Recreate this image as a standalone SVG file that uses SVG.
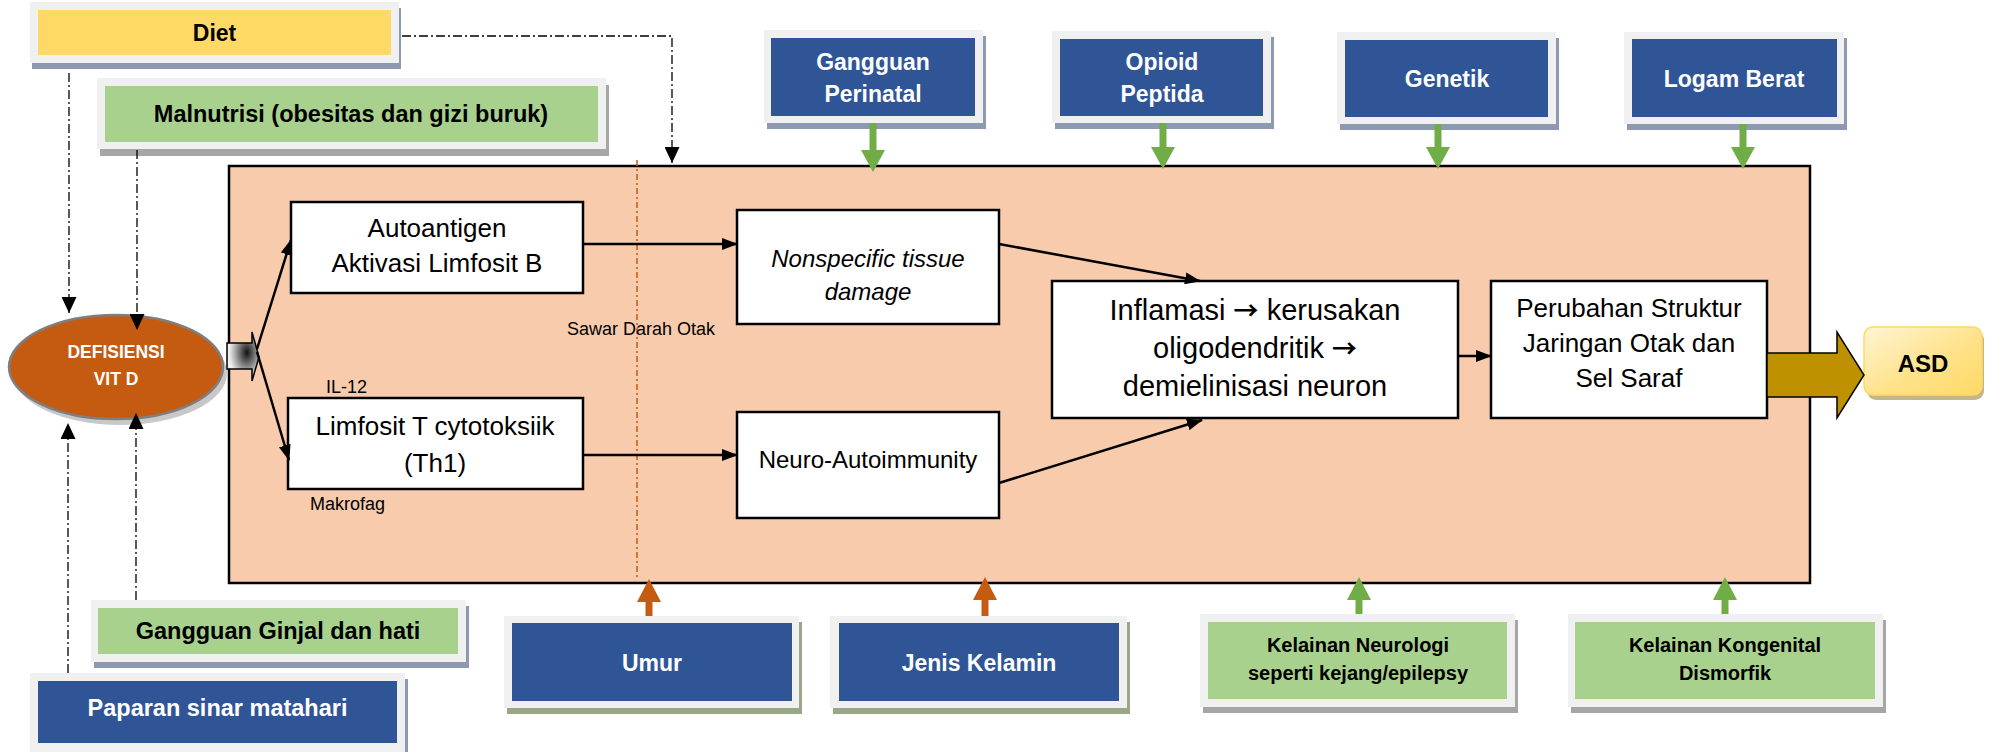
<svg xmlns="http://www.w3.org/2000/svg" width="1992" height="752" viewBox="0 0 1992 752">
<defs>
<style>
text{font-family:"Liberation Sans",Arial,sans-serif;text-anchor:middle}
.b{font-weight:bold}
.w{fill:#fff}
.fr{fill:#F0F0F0}
.bl{fill:#2F5597}
.gr{fill:#A9D18E}
.s1{fill:#8C99B0}
.s2{fill:#A6A6A6}
.s3{fill:#98A68A}
.box{fill:#fff;stroke:#000;stroke-width:2.5}
.dd{fill:none;stroke:#000;stroke-width:1.3;stroke-dasharray:9,3,2,3}
.con{fill:none;stroke:#000;stroke-width:2.5}
.ga{fill:#70AD47}
.oa{fill:#C55A11}
.arr{font-family:"Noto Sans CJK SC","DejaVu Sans",sans-serif;font-size:25px;font-weight:bold}
</style>
<marker id="ah" markerUnits="userSpaceOnUse" markerWidth="16" markerHeight="12" refX="15" refY="6" orient="auto"><path d="M0,0 L16,6 L0,12 z" fill="#000"/></marker>
<marker id="ahd" markerUnits="userSpaceOnUse" markerWidth="16" markerHeight="15" refX="16" refY="7.5" orient="auto"><path d="M0,0 L16,7.5 L0,15 z" fill="#000"/></marker>
<radialGradient id="gg" cx="0.62" cy="0.42" r="0.55"><stop offset="0" stop-color="#111"/><stop offset="0.6" stop-color="#999"/><stop offset="1" stop-color="#eee"/></radialGradient>
<linearGradient id="asdg" x1="0" y1="0" x2="1" y2="1"><stop offset="0" stop-color="#FFF5D6"/><stop offset="0.55" stop-color="#FFE28A"/><stop offset="1" stop-color="#FFD966"/></linearGradient>
</defs>
<rect width="1992" height="752" fill="#fff"/>

<g id="main-box">
<rect x="229" y="166" width="1581" height="417" fill="#F8CBAD" stroke="#000" stroke-width="2.5"/>
<line x1="637" y1="160" x2="637" y2="577" stroke="#C55A11" stroke-width="1.5" stroke-dasharray="6,3,2,3"/>
<text x="567" y="335" font-size="18" style="text-anchor:start">Sawar Darah Otak</text>
<text x="326" y="393" font-size="18" style="text-anchor:start">IL-12</text>
<text x="310" y="510" font-size="18" style="text-anchor:start">Makrofag</text>
</g>

<g id="diet">
<rect x="32" y="8" width="369" height="61" class="s1"/>
<rect x="30" y="2" width="369" height="61" class="fr"/>
<rect x="38" y="10" width="353" height="45" fill="#FFD966"/>
<text x="214.5" y="41" font-size="23" class="b">Diet</text>
</g>

<g id="malnutrisi">
<rect x="100" y="85" width="509" height="71" class="s2"/>
<rect x="97" y="78" width="509" height="71" class="fr"/>
<rect x="105" y="86" width="493" height="56" class="gr"/>
<text x="351" y="122" font-size="23.5" class="b">Malnutrisi (obesitas dan gizi buruk)</text>
</g>

<g id="perinatal">
<rect x="767" y="36" width="219" height="93" class="s1"/>
<rect x="764" y="30" width="219" height="93" class="fr"/>
<rect x="771" y="38" width="204" height="78" class="bl"/>
<text x="873" y="70" font-size="23" class="b w">Gangguan</text>
<text x="873" y="102" font-size="23" class="b w">Perinatal</text>
</g>

<g id="opioid">
<rect x="1055" y="37" width="219" height="92" class="s1"/>
<rect x="1052" y="31" width="219" height="92" class="fr"/>
<rect x="1060" y="39" width="203" height="77" class="bl"/>
<text x="1162" y="70" font-size="23" class="b w">Opioid</text>
<text x="1162" y="102" font-size="23" class="b w">Peptida</text>
</g>

<g id="genetik">
<rect x="1340" y="38" width="219" height="92" class="s1"/>
<rect x="1337" y="32" width="219" height="92" class="fr"/>
<rect x="1345" y="40" width="203" height="77" class="bl"/>
<text x="1447" y="87" font-size="23" class="b w">Genetik</text>
</g>

<g id="logam">
<rect x="1627" y="38" width="220" height="92" class="s1"/>
<rect x="1624" y="32" width="220" height="92" class="fr"/>
<rect x="1632" y="39" width="205" height="78" class="bl"/>
<text x="1734" y="87" font-size="23" class="b w">Logam Berat</text>
</g>

<g id="defisiensi">
<ellipse cx="120" cy="373" rx="107" ry="52" fill="#C8C8C8"/>
<ellipse cx="116" cy="367" rx="107" ry="52" fill="#C55A11" stroke="#7F7F7F" stroke-width="2.5"/>
<text x="116" y="358" font-size="17.5" class="b w">DEFISIENSI</text>
<text x="116" y="385" font-size="17.5" class="b w">VIT D</text>
</g>

<g id="autoantigen">
<rect x="291" y="202" width="292" height="91" class="box"/>
<text x="437" y="237" font-size="26">Autoantigen</text>
<text x="437" y="272" font-size="26">Aktivasi Limfosit B</text>
</g>

<g id="limfosit-t">
<rect x="288" y="398" width="295" height="91" class="box"/>
<text x="435" y="435" font-size="26">Limfosit T cytotoksiik</text>
<text x="435" y="472" font-size="26">(Th1)</text>
</g>

<g id="nonspecific">
<rect x="737" y="210" width="262" height="114" class="box"/>
<text x="868" y="267" font-size="24" font-style="italic">Nonspecific tissue</text>
<text x="868" y="300" font-size="24" font-style="italic">damage</text>
</g>

<g id="neuro">
<rect x="737" y="412" width="262" height="106" class="box"/>
<text x="868" y="468" font-size="24">Neuro-Autoimmunity</text>
</g>

<g id="inflamasi">
<rect x="1052" y="281" width="406" height="137" class="box"/>
<text x="1255" y="320" font-size="29">Inflamasi <tspan class="arr">→</tspan> kerusakan</text>
<text x="1255" y="358" font-size="29">oligodendritik <tspan class="arr">→</tspan></text>
<text x="1255" y="396" font-size="29">demielinisasi neuron</text>
</g>

<g id="perubahan">
<rect x="1491" y="281" width="276" height="137" class="box"/>
<text x="1629" y="317" font-size="26">Perubahan Struktur</text>
<text x="1629" y="352" font-size="26">Jaringan Otak dan</text>
<text x="1629" y="387" font-size="26">Sel Saraf</text>
</g>

<g id="asd">
<rect x="1867" y="331" width="117" height="69" rx="9" fill="#C4B68C"/>
<rect x="1864" y="327" width="118" height="68" rx="9" fill="url(#asdg)" stroke="#FFD966" stroke-width="1.5"/>
<text x="1923" y="372" font-size="24" class="b">ASD</text>
</g>

<g id="ginjal">
<rect x="94" y="606" width="375" height="62" class="s1"/>
<rect x="91" y="600" width="375" height="62" class="fr"/>
<rect x="98" y="608" width="360" height="46" class="gr"/>
<text x="278" y="639" font-size="23.5" class="b">Gangguan Ginjal dan hati</text>
</g>

<g id="paparan">
<rect x="33" y="679" width="375" height="79" class="s1"/>
<rect x="30" y="673" width="375" height="79" class="fr"/>
<rect x="38" y="681" width="359" height="62" class="bl"/>
<text x="217.5" y="716" font-size="23.5" class="b w">Paparan sinar matahari</text>
</g>

<g id="umur">
<rect x="507" y="622" width="295" height="92" class="s3"/>
<rect x="504" y="616" width="295" height="92" class="fr"/>
<rect x="512" y="623" width="280" height="78" class="bl"/>
<text x="652" y="671" font-size="23" class="b w">Umur</text>
</g>

<g id="jenis-kelamin">
<rect x="833" y="622" width="297" height="92" class="s3"/>
<rect x="830" y="616" width="297" height="92" class="fr"/>
<rect x="839" y="623" width="280" height="78" class="bl"/>
<text x="979" y="671" font-size="23" class="b w">Jenis Kelamin</text>
</g>

<g id="kelainan-neurologi">
<rect x="1203" y="620" width="315" height="93" class="s2"/>
<rect x="1200" y="614" width="315" height="93" class="fr"/>
<rect x="1208" y="622" width="299" height="77" class="gr"/>
<text x="1358" y="652" font-size="20" class="b">Kelainan Neurologi</text>
<text x="1358" y="680" font-size="20" class="b">seperti kejang/epilepsy</text>
</g>

<g id="kelainan-kongenital">
<rect x="1571" y="620" width="315" height="93" class="s2"/>
<rect x="1568" y="614" width="315" height="93" class="fr"/>
<rect x="1575" y="622" width="300" height="77" class="gr"/>
<text x="1725" y="652" font-size="20" class="b">Kelainan Kongenital</text>
<text x="1725" y="680" font-size="20" class="b">Dismorfik</text>
</g>

<g id="connectors">
<path class="dd" d="M402,36 L672,36 L672,163" marker-end="url(#ahd)"/>
<path class="dd" d="M69,73 L69,313" marker-end="url(#ahd)"/>
<path class="dd" d="M137,150 L137,330" marker-end="url(#ahd)"/>
<path class="dd" d="M136,600 L136,413" marker-end="url(#ahd)"/>
<path class="dd" d="M68,673 L68,423" marker-end="url(#ahd)"/>
<path d="M227,343 L252,343 L252,332 L259,357 L252,381 L252,369 L227,369 z" fill="url(#gg)" stroke="#000" stroke-width="1.5"/>
<path class="con" d="M257,349 L291,240" marker-end="url(#ah)"/>
<path class="con" d="M257,352 L289,460" marker-end="url(#ah)"/>
<path class="con" d="M583,244 L737,244" marker-end="url(#ah)"/>
<path class="con" d="M583,455 L737,455" marker-end="url(#ah)"/>
<path class="con" d="M999,244 L1200,281" marker-end="url(#ah)"/>
<path class="con" d="M999,483 L1202,420" marker-end="url(#ah)"/>
<path class="con" d="M1458,356 L1491,356" marker-end="url(#ah)"/>
<path d="M1767,353 L1837,353 L1837,332 L1864,375 L1837,418 L1837,397 L1767,397 z" fill="#BF9000" stroke="#000" stroke-width="1.5"/>
<path class="ga" d="M869.5,123 L876.5,123 L876.5,150 L885,150 L873,172 L861,150 L869.5,150 z"/>
<path class="ga" d="M1159.5,123 L1166.5,123 L1166.5,147 L1175,147 L1163,169 L1151,147 L1159.5,147 z"/>
<path class="ga" d="M1434.5,124 L1441.5,124 L1441.5,147 L1450,147 L1438,169 L1426,147 L1434.5,147 z"/>
<path class="ga" d="M1739.5,124 L1746.5,124 L1746.5,147 L1755,147 L1743,169 L1731,147 L1739.5,147 z"/>
<path class="oa" d="M645.5,616 L652.5,616 L652.5,602 L661,602 L649,579 L637,602 L645.5,602 z"/>
<path class="oa" d="M981.5,616 L988.5,616 L988.5,600 L997,600 L985,577 L973,600 L981.5,600 z"/>
<path class="ga" d="M1355.5,614 L1362.5,614 L1362.5,600 L1371,600 L1359,577 L1347,600 L1355.5,600 z"/>
<path class="ga" d="M1721.5,614 L1728.5,614 L1728.5,600 L1737,600 L1725,577 L1713,600 L1721.5,600 z"/>
</g>
</svg>
